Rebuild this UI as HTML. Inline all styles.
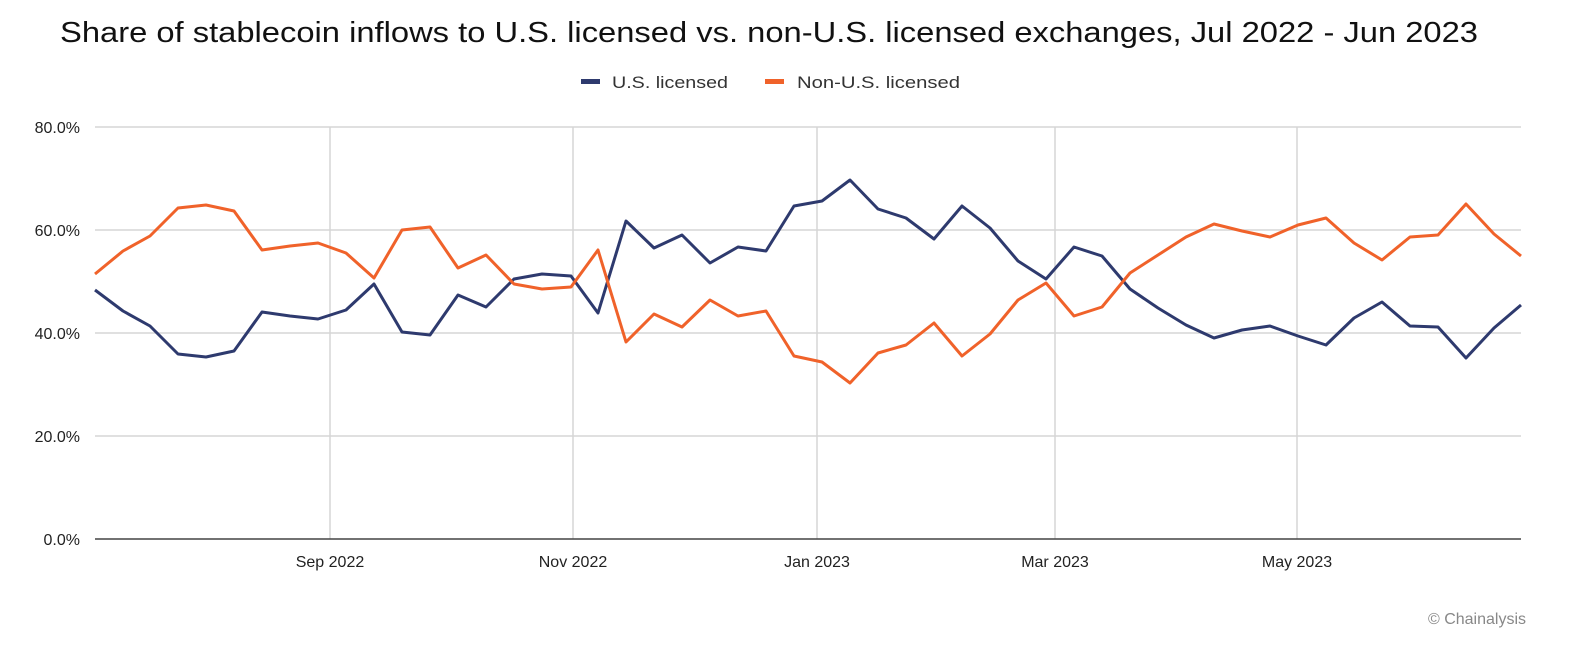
<!DOCTYPE html>
<html><head><meta charset="utf-8"><style>
html,body{margin:0;padding:0;background:#fff;}
svg text{font-family:"Liberation Sans",sans-serif;}
</style></head><body>
<svg width="1570" height="650" viewBox="0 0 1570 650" xmlns="http://www.w3.org/2000/svg">
<rect width="1570" height="650" fill="#fff"/>
<text x="60" y="42" font-size="29" fill="#111" textLength="1418" lengthAdjust="spacingAndGlyphs">Share of stablecoin inflows to U.S. licensed vs. non-U.S. licensed exchanges, Jul 2022 - Jun 2023</text>
<rect x="581" y="79" width="19" height="5" fill="#2e3a6e"/>
<text x="612" y="88" font-size="17" fill="#333" textLength="116" lengthAdjust="spacingAndGlyphs">U.S. licensed</text>
<rect x="765" y="79" width="19" height="5" fill="#f0622a"/>
<text x="797" y="88" font-size="17" fill="#333" textLength="163" lengthAdjust="spacingAndGlyphs">Non-U.S. licensed</text>
<g stroke="#d6d6d6" stroke-width="1.5">
<line x1="95" y1="127" x2="1521" y2="127"/>
<line x1="95" y1="230" x2="1521" y2="230"/>
<line x1="95" y1="333" x2="1521" y2="333"/>
<line x1="95" y1="436" x2="1521" y2="436"/>
<line x1="330" y1="127" x2="330" y2="539"/>
<line x1="573" y1="127" x2="573" y2="539"/>
<line x1="817" y1="127" x2="817" y2="539"/>
<line x1="1055" y1="127" x2="1055" y2="539"/>
<line x1="1297" y1="127" x2="1297" y2="539"/>
</g>
<line x1="95" y1="539" x2="1521" y2="539" stroke="#444" stroke-width="1.5"/>
<g font-size="16" fill="#222" text-anchor="end">
<text x="80" y="133">80.0%</text>
<text x="80" y="236">60.0%</text>
<text x="80" y="339">40.0%</text>
<text x="80" y="442">20.0%</text>
<text x="80" y="545">0.0%</text>
</g>
<g font-size="16" fill="#222" text-anchor="middle">
<text x="330" y="567">Sep 2022</text>
<text x="573" y="567">Nov 2022</text>
<text x="817" y="567">Jan 2023</text>
<text x="1055" y="567">Mar 2023</text>
<text x="1297" y="567">May 2023</text>
</g>
<text x="1526" y="624" font-size="16" fill="#888" text-anchor="end">© Chainalysis</text>
<polyline fill="none" stroke="#2e3a6e" stroke-width="3" stroke-linejoin="round" points="95,290 123,311 150,326 178,354 206,357 234,351 262,312 290,316 318,319 346,310 374,284 402,332 430,335 458,295 486,307 514,279 542,274 571,276 598,313 626,221 654,248 682,235 710,263 738,247 766,251 794,206 822,201 850,180 878,209 906,218 934,239 962,206 990,228 1018,261 1046,279 1074,247 1102,256 1130,289 1158,308 1186,325 1214,338 1242,330 1270,326 1298,336 1326,345 1354,318 1382,302 1410,326 1438,327 1466,358 1494,328 1521,305"/>
<polyline fill="none" stroke="#f0622a" stroke-width="3" stroke-linejoin="round" points="95,274 123,251 150,236 178,208 206,205 234,211 262,250 290,246 318,243 346,253 374,278 402,230 430,227 458,268 486,255 514,284 542,289 571,287 598,250 626,342 654,314 682,327 710,300 738,316 766,311 794,356 822,362 850,383 878,353 906,345 934,323 962,356 990,334 1018,300 1046,283 1074,316 1102,307 1130,273 1158,255 1186,237 1214,224 1242,231 1270,237 1298,225 1326,218 1354,243 1382,260 1410,237 1438,235 1466,204 1494,234 1521,256"/>
</svg>
</body></html>
